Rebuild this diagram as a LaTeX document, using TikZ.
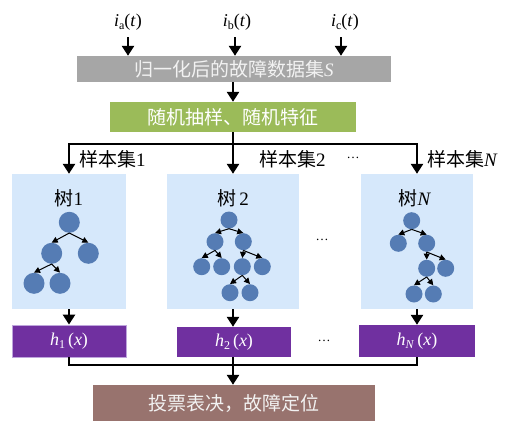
\documentclass[tikz,border=0pt]{standalone}
\usepackage{fontspec}
\setmainfont{Liberation Serif}
\newfontfamily\cjk{Noto Sans CJK SC}
\usetikzlibrary{arrows.meta}
\definecolor{grayb}{RGB}{166,166,166}
\definecolor{greenb}{RGB}{155,187,89}
\definecolor{blueb}{RGB}{214,232,251}
\definecolor{purpleb}{RGB}{112,48,160}
\definecolor{brownb}{RGB}{152,115,110}
\definecolor{nodeb}{RGB}{85,124,180}
\definecolor{barText}{RGB}{242,242,242}
\newcommand{\mysub}[1]{\raisebox{-0.35ex}{\fontsize{12}{12}\selectfont #1}}
\begin{document}
\begin{tikzpicture}[x=1pt,y=-1pt,
  arr/.style={line width=2.6pt,-{Triangle[width=12pt,length=10pt]}},
  ln/.style={line width=2.6pt},
  tarr/.style={line width=1pt,-{Triangle[width=6pt,length=6pt]}},
  bar/.style={inner sep=0pt,text=barText,font=\fontsize{19}{21}\selectfont},
  treebox/.style={fill=blueb,inner sep=0pt,minimum height=135pt},
  hbox/.style={fill=purpleb,inner sep=0pt,text=white,font=\fontsize{18}{20}\selectfont},
  lbl/.style={inner sep=0pt,font=\fontsize{18}{20}\selectfont},
  clbl/.style={inner sep=0pt,font=\fontsize{19}{21}\selectfont},
  dots/.style={inner sep=0pt,font=\fontsize{13}{14}\selectfont},
  tnA/.style={circle,fill=nodeb,inner sep=0pt,minimum size=21pt},
  tnB/.style={circle,fill=nodeb,inner sep=0pt,minimum size=17pt}]
\useasboundingbox (0,0) rectangle (507,421);

% inputs
\node[lbl] (ia) at (128,22) {\textit{i}\mysub{a}(\textit{t})};
\node[lbl] (ib) at (237,22) {\textit{i}\mysub{b}(\textit{t})};
\node[lbl] (ic) at (345,22) {\textit{i}\mysub{c}(\textit{t})};

% bars
\node[bar,fill=grayb,minimum width=314pt,minimum height=26pt] (S) at (234,69)
  {{\cjk 归一化后的故障数据集}\textit{S}};
\node[bar,fill=greenb,minimum width=246pt,minimum height=30pt,text=white] (R) at (233,117)
  {\cjk 随机抽样、随机特征};

\coordinate (ia1) at (128,37);
\coordinate (ib1) at (235,37);
\coordinate (ic1) at (341,37);
\draw[arr] (ia1) -- (ia1 |- S.north);
\draw[arr] (ib1) -- (ib1 |- S.north);
\draw[arr] (ic1) -- (ic1 |- S.north);
\draw[arr] (S.south -| R.north) -- (R.north);

% tree boxes
\node[treebox,minimum width=114pt] (T1) at (69,241.5) {};
\node[treebox,minimum width=132pt] (T2) at (233,241.5) {};
\node[treebox,minimum width=112pt] (TN) at (417,241.5) {};

\coordinate (split) at (233,144);
\draw[ln] (R.south) -- (split);
\draw[arr] (split) -| (T1.north);
\draw[arr] (split) -- (T2.north);
\draw[arr] (split) -| (TN.north);

\node[clbl,anchor=west] (s1) at (79,159) {{\cjk 样本集}1};
\node[clbl,anchor=west] (s2) at (259,159) {{\cjk 样本集}2};
\node[dots] (sd) at (353,158) {\textellipsis};
\node[clbl,anchor=west] (sN) at (427,159) {{\cjk 样本集}\textit{N}};

% tree titles
\node[clbl] (t1) at (69,198) {{\cjk 树}1};
\node[clbl] (t2) at (233,198) {{\cjk 树}\,2};
\node[clbl] (tN) at (415,198) {{\cjk 树}\textit{N}};
\node[dots] (md) at (322,240) {\textellipsis};

% tree 1
\node[tnA] (a0) at (69.3,222.3) {};
\node[tnA] (a1) at (51.7,253.3) {};
\node[tnA] (a2) at (88.3,253.3) {};
\node[tnA] (a3) at (34,283.3) {};
\node[tnA] (a4) at (60,283.3) {};
\draw[tarr] (a0.south) -- (a1.north);
\draw[tarr] (a0.south) -- (a2.north);
\draw[tarr] (a1.south) -- (a3.north);
\draw[tarr] (a1.south) -- (a4.north);

% tree 2
\node[tnB] (b0) at (229,220) {};
\node[tnB] (b1) at (215,241.7) {};
\node[tnB] (b2) at (243.3,241.7) {};
\node[tnB] (b3) at (201.7,266.7) {};
\node[tnB] (b4) at (221.7,266.7) {};
\node[tnB] (b5) at (242.3,266.7) {};
\node[tnB] (b6) at (262.3,266.7) {};
\node[tnB] (b7) at (230,292.7) {};
\node[tnB] (b8) at (250,292.7) {};
\draw[tarr] (b0.south) -- (b1.north);
\draw[tarr] (b0.south) -- (b2.north);
\draw[tarr] (b1.south) -- (b3.north);
\draw[tarr] (b1.south) -- (b4.north);
\draw[tarr] (b2.south) -- (b5.north);
\draw[tarr] (b2.south) -- (b6.north);
\draw[tarr] (b5.south) -- (b7.north);
\draw[tarr] (b5.south) -- (b8.north);

% tree N
\node[tnB] (c0) at (411.7,220.7) {};
\node[tnB] (c1) at (398.3,243.3) {};
\node[tnB] (c2) at (426.7,243.3) {};
\node[tnB] (c3) at (426.7,268.3) {};
\node[tnB] (c4) at (445.7,268.3) {};
\node[tnB] (c5) at (414,294) {};
\node[tnB] (c6) at (433.3,294) {};
\draw[tarr] (c0.south) -- (c1.north);
\draw[tarr] (c0.south) -- (c2.north);
\draw[tarr] (c2.south) -- (c3.north);
\draw[tarr] (c2.south) -- (c4.north);
\draw[tarr] (c3.south) -- (c5.north);
\draw[tarr] (c3.south) -- (c6.north);

% classifiers
\node[hbox,minimum width=114pt,minimum height=32pt,draw={rgb,255:red,190;green,165;blue,220},line width=0.8pt] (h1) at (69,341) {\textit{h}\mysub{1}\,(\textit{x})};
\node[hbox,minimum width=114pt,minimum height=30pt] (h2) at (234,342) {\textit{h}\mysub{2}\,(\textit{x})};
\node[hbox,minimum width=116pt,minimum height=32pt] (hN) at (417,341) {\textit{h}\mysub{\textit{N}}\,(\textit{x})};
\node[dots] (hd) at (324,341) {\textellipsis};

\draw[arr] (T1.south) -- (h1.north);
\draw[arr] (T2.south) -- (T2.south |- h2.north);
\draw[arr] (TN.south) -- (hN.north);

% vote
\node[bar,fill=brownb,minimum width=282pt,minimum height=36pt] (V) at (234,403) {\cjk 投票表决，故障定位};
\coordinate (merge) at (233,365);
\draw[ln] (h1.south) |- (merge);
\draw[ln] (hN.south) |- (merge);
\draw[ln] (T2.south |- h2.south) -- (merge);
\draw[arr] (merge) -- (merge |- V.north);
\end{tikzpicture}
\end{document}
